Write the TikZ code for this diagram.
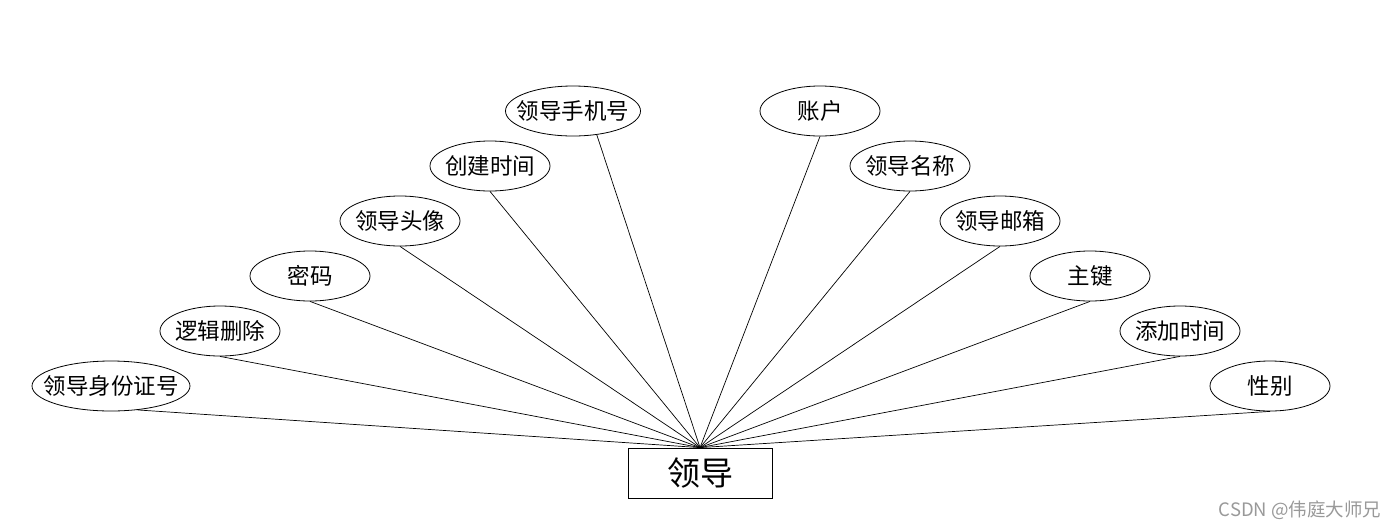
\documentclass[tikz,border=0pt]{standalone}
\usepackage{fontspec}
\newfontfamily\cjk{Noto Sans CJK SC}
\usetikzlibrary{shapes.geometric}
\newcommand\attrtext[1]{\makebox[0pt]{#1}}
\begin{document}
\begin{tikzpicture}[x=1pt,y=-1pt,
  attr/.style={ellipse,draw,line width=0.8pt,minimum width=120pt,minimum height=50pt,inner sep=0pt,font=\cjk\fontsize{22.5}{22.5}\selectfont},
  entity/.style={rectangle,draw,line width=0.8pt,minimum width=144pt,minimum height=50pt,inner sep=0pt,font=\cjk\fontsize{33}{33}\selectfont},
  link/.style={draw,line width=0.7pt},
  wmark/.style={font=\cjk\fontsize{18.5}{18.5}\selectfont,text=black!40}]
\useasboundingbox (0,0) rectangle (1400,528);
\node[entity] (main) at (700,473) {领导};
\node[attr,minimum width=158pt] (sfz) at (111,386) {\attrtext{领导身份证号}};
\node[attr] (ljsc) at (220,331) {\attrtext{逻辑删除}};
\node[attr] (mm) at (310,276) {\attrtext{密码}};
\node[attr] (tx) at (400,221) {\attrtext{领导头像}};
\node[attr] (cjsj) at (490,166) {\attrtext{创建时间}};
\node[attr,minimum width=135pt] (sjh) at (573,111) {\attrtext{领导手机号}};
\node[attr] (zh) at (820,111) {\attrtext{账户}};
\node[attr] (mc) at (910,166) {\attrtext{领导名称}};
\node[attr] (yx) at (1000,221) {\attrtext{领导邮箱}};
\node[attr] (zj) at (1090,276) {\attrtext{主键}};
\node[attr] (tjsj) at (1180,331) {\attrtext{添加时间}};
\node[attr] (xb) at (1270,386) {\attrtext{性别}};
\node[wmark,anchor=east] (wm) at (1385,510) {CSDN @伟庭大师兄};
\draw[link] (sfz.-42) -- (main.north);
\draw[link] (ljsc.south) -- (main.north);
\draw[link] (mm.south) -- (main.north);
\draw[link] (tx.south) -- (main.north);
\draw[link] (cjsj.south) -- (main.north);
\draw[link] (sjh.-45) -- (main.north);
\draw[link] (zh.south) -- (main.north);
\draw[link] (mc.south) -- (main.north);
\draw[link] (yx.south) -- (main.north);
\draw[link] (zj.south) -- (main.north);
\draw[link] (tjsj.south) -- (main.north);
\draw[link] (xb.south) -- (main.north);
\end{tikzpicture}
\end{document}
